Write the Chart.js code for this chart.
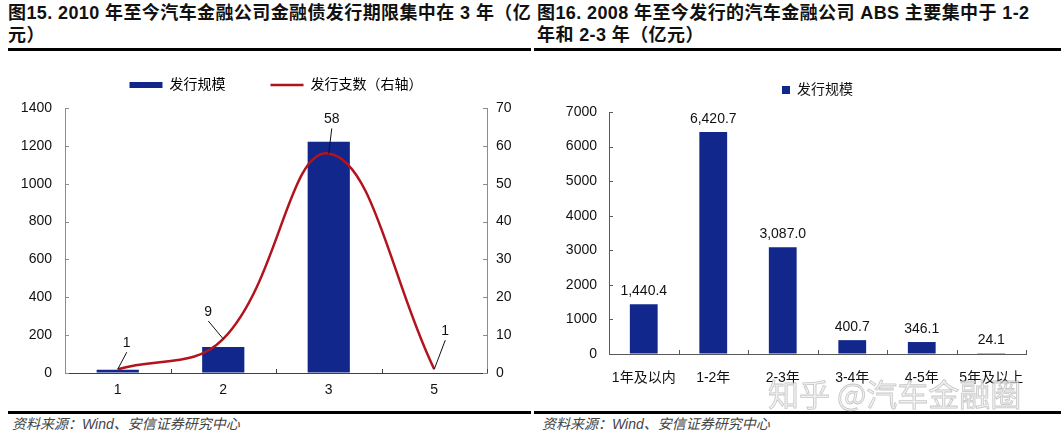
<!DOCTYPE html>
<html>
<head>
<meta charset="UTF-8" />
<title>汽车金融公司金融债与ABS发行期限</title>
<style>
  body { margin: 0; width: 1061px; height: 438px; background: #fff; position: relative; overflow: hidden;
         font-family: "Liberation Sans", "Noto Sans CJK SC", sans-serif; }
  .title { position: absolute; top: 2px; font-size: 18px; font-weight: bold; line-height: 22px; color: #111;
           letter-spacing: 0.4px; white-space: nowrap; overflow: hidden; }
  .rule { position: absolute; height: 3px; background: #000; }
  .src { position: absolute; top: 416px; font-size: 14px; line-height: 16px; font-style: italic; color: #444;
         font-family: "Liberation Sans", "Noto Sans CJK SC", sans-serif; }
  .box { position: absolute; top: 60px; }
  .wm { position: absolute; left: 768px; top: 377px; font-size: 31px; line-height: 31px; white-space: nowrap;
        font-family: "Noto Sans CJK SC", sans-serif; color: rgba(236, 236, 236, 0.7);
        -webkit-text-stroke: 0.8px rgba(150, 150, 150, 0.5); pointer-events: none; }
</style>
</head>
<body>
  <div class="title" style="left:8px; width:523px;">图15. 2010 年至今汽车金融公司金融债发行期限集中在 3 年（亿<br>元）</div>
  <div class="title" style="left:537px; width:524px;">图16. 2008 年至今发行的汽车金融公司 ABS 主要集中于 1-2<br>年和 2-3 年（亿元）</div>
  <div class="rule" style="left:8px; width:523px; top:48px;"></div>
  <div class="rule" style="left:534px; width:527px; top:48px;"></div>

  <canvas id="c1" class="box" style="left:0px;" width="530" height="350"></canvas>
  <canvas id="c2" class="box" style="left:533px;" width="528" height="350"></canvas>

  <div class="rule" style="left:8px; width:523px; top:411px;"></div>
  <div class="rule" style="left:534px; width:527px; top:411px;"></div>
  <div class="src" style="left:12px;">资料来源：Wind、安信证券研究中心</div>
  <div class="src" style="left:542px;">资料来源：Wind、安信证券研究中心</div>
  <div class="wm">知乎 @汽车金融圈</div>

<script src="https://cdn.jsdelivr.net/npm/chart.js@4.4.1/dist/chart.umd.min.js"></script>
<script>
  // 图15：金融债发行期限（年）
  const termLabels = ['1', '2', '3', '5'];
  const bondAmount = [17, 137, 1222, 3];   // 发行规模（亿元）
  const bondCount = [1, 9, 58, 1];         // 发行支数（右轴）

  // 图16：ABS 发行期限
  const absLabels = ['1年及以内', '1-2年', '2-3年', '3-4年', '4-5年', '5年及以上'];
  const absAmount = [1440.4, 6420.7, 3087.0, 400.7, 346.1, 24.1];

  // label placement for the count labels (offset from the point, px)
  const countLabelPos = [[9, -26], [-15, -27], [3, -34], [11, -38]];

  const BLUE = '#11278c';
  const RED = '#b3131d';

  Chart.defaults.font.family = '"Liberation Sans", "Noto Sans CJK SC", sans-serif';
  Chart.defaults.font.size = 14;
  Chart.defaults.color = '#111';
  Chart.defaults.animation = false;

  const plain = v => String(v);

  // short tick marks pointing into the plot
  const innerTicks = {
    id: 'innerTicks',
    afterDraw(chart) {
      const ctx = chart.ctx;
      ctx.save();
      ctx.lineWidth = 1;
      Object.values(chart.scales).forEach(s => {
        ctx.strokeStyle = s.options.border.color;
        ctx.beginPath();
        if (s.axis === 'y') {
          const x = s.position === 'left' ? s.right : s.left;
          const dir = s.position === 'left' ? 1 : -1;
          s.ticks.forEach((t, i) => {
            const y = Math.round(s.getPixelForTick(i)) + 0.5;
            ctx.moveTo(x, y);
            ctx.lineTo(x + dir * 4, y);
          });
        } else {
          for (let i = 1; i <= s.ticks.length; i++) {
            const x = Math.round(s.getPixelForValue(i - 0.5)) + 0.5;
            ctx.moveTo(x, s.top);
            ctx.lineTo(x, s.top - 4);
          }
        }
        ctx.stroke();
      });
      ctx.restore();
    }
  };

  // legend height so the plot starts where it should
  const legendRoom = {
    id: 'legendRoom',
    beforeInit(chart, args, opts) {
      const fit = chart.legend.fit;
      chart.legend.fit = function () {
        fit.bind(chart.legend)();
        this.height = opts.h;
      };
    }
  };

  // count labels with leader lines
  const leaderLabels = {
    id: 'leaderLabels',
    afterDatasetsDraw(chart) {
      const ctx = chart.ctx;
      const meta = chart.getDatasetMeta(1);
      ctx.save();
      ctx.font = '14px "Liberation Sans", sans-serif';
      ctx.fillStyle = '#111';
      ctx.strokeStyle = '#111';
      ctx.lineWidth = 1;
      ctx.textAlign = 'center';
      ctx.textBaseline = 'middle';
      meta.data.forEach((pt, i) => {
        const lx = pt.x + countLabelPos[i][0];
        const ly = pt.y + countLabelPos[i][1];
        ctx.fillText(String(bondCount[i]), lx, ly);
        ctx.beginPath();
        ctx.moveTo(lx, ly + 9);
        ctx.lineTo(pt.x, pt.y);
        ctx.stroke();
      });
      ctx.restore();
    }
  };

  // value labels above the ABS bars
  const valueLabels = {
    id: 'valueLabels',
    afterDatasetsDraw(chart) {
      const ctx = chart.ctx;
      ctx.save();
      ctx.font = '14px "Liberation Sans", sans-serif';
      ctx.fillStyle = '#111';
      ctx.textAlign = 'center';
      ctx.textBaseline = 'bottom';
      chart.getDatasetMeta(0).data.forEach((bar, i) => {
        const txt = absAmount[i].toLocaleString('en-US', { minimumFractionDigits: 1, maximumFractionDigits: 1 });
        ctx.fillText(txt, bar.x, bar.y - 6);
      });
      ctx.restore();
    }
  };

  new Chart(document.getElementById('c1'), {
    data: {
      labels: termLabels,
      datasets: [
        { type: 'bar', label: '发行规模', data: bondAmount, backgroundColor: BLUE, yAxisID: 'y',
          categoryPercentage: 0.5, barPercentage: 0.8, order: 1 },
        { type: 'line', label: '发行支数（右轴）', data: bondCount, borderColor: RED, borderWidth: 2.5,
          pointRadius: 0, tension: 0.4, yAxisID: 'y1', order: 0 }
      ]
    },
    options: {
      responsive: false,
      layout: { padding: { top: -27, left: 0, right: 0, bottom: 0 } },
      plugins: {
        legendRoom: { h: 75 },
        tooltip: { enabled: false },
        legend: {
          position: 'top',
          fullSize: false,
          labels: {
            usePointStyle: true, pointStyleWidth: 33, boxHeight: 6, padding: 45,
            font: { size: 14 }, color: '#111',
            generateLabels: () => [
              { text: '发行规模', fillStyle: BLUE, strokeStyle: BLUE, lineWidth: 0, pointStyle: 'rect', datasetIndex: 0 },
              { text: '发行支数（右轴）', fillStyle: RED, strokeStyle: RED, lineWidth: 2.5, pointStyle: 'line', datasetIndex: 1 }
            ]
          }
        }
      },
      scales: {
        x: {
          grid: { drawOnChartArea: false, drawTicks: false },
          border: { color: '#404040' },
          ticks: { padding: 9, color: '#111', maxRotation: 0, autoSkip: false },
          afterFit(s) { s.height = 37; }
        },
        y: {
          position: 'left', min: 0, max: 1400,
          grid: { drawOnChartArea: false, drawTicks: false },
          border: { color: '#8c8c8c' },
          ticks: { stepSize: 200, padding: 13, color: '#111', callback: plain },
          afterFit(s) { s.width = 65; }
        },
        y1: {
          position: 'right', min: 0, max: 70,
          grid: { drawOnChartArea: false, drawTicks: false },
          border: { color: '#8c8c8c' },
          ticks: { stepSize: 10, padding: 9, color: '#111', callback: plain },
          afterFit(s) { s.width = 43; }
        }
      }
    },
    plugins: [legendRoom, innerTicks, leaderLabels]
  });

  new Chart(document.getElementById('c2'), {
    type: 'bar',
    data: {
      labels: absLabels,
      datasets: [
        { label: '发行规模', data: absAmount, backgroundColor: BLUE, categoryPercentage: 0.5, barPercentage: 0.8 }
      ]
    },
    options: {
      responsive: false,
      layout: { padding: { top: 0, left: 0, right: 35, bottom: 0 } },
      plugins: {
        legendRoom: { h: 52 },
        tooltip: { enabled: false },
        legend: {
          position: 'top',
          fullSize: false,
          labels: {
            usePointStyle: true, pointStyle: 'rect', pointStyleWidth: 8, boxHeight: 8, padding: 23,
            font: { size: 14 }, color: '#111'
          }
        }
      },
      scales: {
        x: {
          grid: { drawOnChartArea: false, drawTicks: false },
          border: { color: '#5a5a5a' },
          ticks: { padding: 16, color: '#111', maxRotation: 0, minRotation: 0, autoSkip: false },
          afterFit(s) { s.height = 56; }
        },
        y: {
          min: 0, max: 7000,
          grid: { drawOnChartArea: false, drawTicks: false },
          border: { color: '#5a5a5a' },
          ticks: { stepSize: 1000, padding: 12, color: '#111', callback: plain },
          afterFit(s) { s.width = 76; }
        }
      }
    },
    plugins: [legendRoom, innerTicks, valueLabels]
  });
</script>
</body>
</html>
